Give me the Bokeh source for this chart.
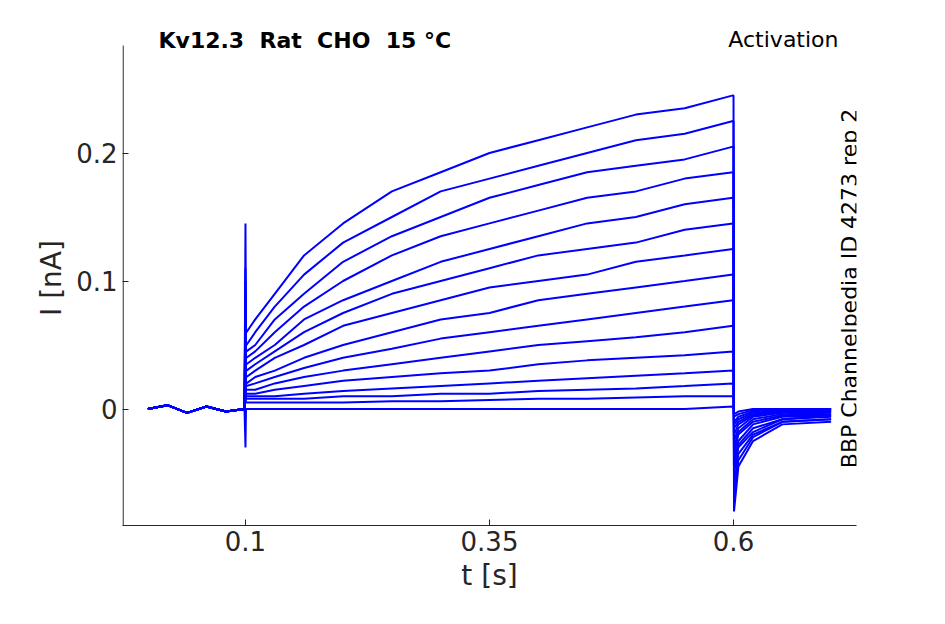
from bokeh.plotting import figure
from bokeh.embed import file_html
from bokeh.resources import INLINE
from bokeh.models import Range1d, Label

pre_t = [0.0, 0.02, 0.04, 0.06, 0.08, 0.099]
pre_v = [0.0, 0.003, -0.003, 0.002, -0.002, 0.0]
step_t = [0.1, 0.1005, 0.101, 0.11, 0.13, 0.16, 0.2, 0.25, 0.3, 0.35, 0.4, 0.45, 0.5, 0.55, 0.5995]
tail_t = [0.6, 0.6005, 0.605, 0.62, 0.65, 0.7]

spikes = [0.145, 0.11, 0.1, 0.09, 0.08, 0.07, 0.06, 0.05, 0.04, 0.035, 0.03, 0.02, 0.015, 0.01, -0.03]
steps = [
    [.06,.07,.09,.12,.145,.17,.185,.2,.21,.22,.23,.235,.245],
    [.05,.06,.08,.105,.13,.15,.17,.18,.19,.2,.21,.215,.225],
    [.045,.05,.07,.09,.115,.135,.15,.165,.175,.185,.19,.195,.205],
    [.04,.045,.06,.08,.1,.12,.135,.145,.155,.165,.17,.18,.185],
    [.035,.04,.05,.07,.085,.1,.115,.125,.135,.145,.15,.16,.165],
    [.03,.035,.045,.06,.075,.09,.1,.11,.12,.125,.13,.14,.145],
    [.025,.03,.04,.05,.065,.075,.085,.095,.1,.105,.115,.12,.125],
    [.02,.025,.03,.04,.05,.06,.07,.075,.085,.09,.095,.1,.105],
    [.018,.02,.025,.032,.04,.047,.055,.06,.065,.07,.075,.08,.085],
    [.015,.015,.02,.025,.03,.035,.04,.045,.05,.053,.056,.06,.065],
    [.012,.012,.015,.018,.022,.025,.028,.03,.035,.038,.04,.042,.045],
    [.01,.01,.01,.012,.014,.016,.018,.02,.022,.024,.026,.028,.03],
    [.008,.008,.008,.008,.01,.01,.012,.012,.014,.015,.016,.018,.02],
    [.005,.005,.005,.005,.005,.006,.006,.007,.008,.008,.009,.01,.01],
    [0,0,0,0,0,0,0,0,0,0,0,0,.002],
]
tails = [
    [.245,-.08,-.045,-.025,-.012,-.01],
    [.225,-.07,-.04,-.022,-.01,-.008],
    [.205,-.06,-.035,-.02,-.01,-.008],
    [.185,-.05,-.03,-.018,-.008,-.006],
    [.165,-.045,-.028,-.015,-.008,-.005],
    [.145,-.04,-.025,-.012,-.006,-.005],
    [.125,-.035,-.02,-.01,-.005,-.004],
    [.105,-.03,-.018,-.008,-.004,-.003],
    [.085,-.025,-.015,-.006,-.003,-.002],
    [.065,-.02,-.012,-.005,-.002,-.002],
    [.045,-.015,-.01,-.004,-.002,-.001],
    [.03,-.012,-.008,-.003,-.001,-.001],
    [.02,-.01,-.006,-.002,0,0],
    [.01,-.006,-.004,-.001,0,0],
    [.002,-.004,-.002,0,0,0],
]

X0, X1 = -0.026, 0.726
Y0, Y_AXIS_TOP, Y1 = -0.091, 0.284, 0.2957

p = figure(width=929, height=608, output_backend="svg", toolbar_location=None,
           x_range=Range1d(X0, X1), y_range=Range1d(Y0, Y1),
           min_border_left=122, min_border_top=30, min_border_right=73, min_border_bottom=83)
p.outline_line_color = None
p.xgrid.visible = False
p.ygrid.visible = False

for sp, st, tl in zip(spikes, steps, tails):
    xs = pre_t + step_t + tail_t
    ys = pre_v + [sp, st[0]] + st + tl
    p.line(xs, ys, line_color="#0000ff", line_width=2)

p.xaxis.ticker = [0.1, 0.35, 0.6]
p.yaxis.ticker = [0, 0.1, 0.2]
p.xaxis.major_label_overrides = {0.1: "0.1", 0.35: "0.35", 0.6: "0.6"}
p.yaxis.major_label_overrides = {0: "0", 0.1: "0.1", 0.2: "0.2"}
for ax in (p.xaxis, p.yaxis):
    ax.major_label_text_font_size = "26px"
    ax.major_label_text_color = "#262626"
    ax.axis_label_text_font_size = "28px"
    ax.axis_label_text_font_style = "normal"
    ax.axis_label_text_color = "#262626"
    ax.minor_tick_line_color = None
    ax.major_tick_in = 6
    ax.major_tick_out = 0
    ax.axis_line_color = "#262626"
    ax.major_tick_line_color = "#262626"
    ax.major_label_text_font = "DejaVu Sans"
    ax.axis_label_text_font = "DejaVu Sans"
p.xaxis.axis_label = "t [s]"
p.yaxis.axis_label = "I [nA]"
p.yaxis.axis_line_color = None
p.segment(x0=[X0 + 0.0006], y0=[Y0], x1=[X0 + 0.0006], y1=[Y_AXIS_TOP], line_color="#262626", line_width=1.2)

p.add_layout(Label(x=158, y=40, x_units="canvas", y_units="canvas",
                   text="Kv12.3\u00a0\u00a0Rat\u00a0\u00a0CHO\u00a0\u00a015\u00a0°C",
                   text_font="DejaVu Sans", text_font_size="22px", text_font_style="bold",
                   text_baseline="middle", text_color="black"))
p.add_layout(Label(x=838, y=39, x_units="canvas", y_units="canvas", text="Activation",
                   text_font="DejaVu Sans", text_font_size="22px", text_align="right", text_baseline="middle",
                   text_color="black"))
p.add_layout(Label(x=849, y=288, x_units="canvas", y_units="canvas", text="BBP Channelpedia ID 4273 rep 2",
                   text_font="DejaVu Sans", text_font_size="22px", text_align="center", text_baseline="middle",
                   text_color="black", angle=1.5708))

open("out.html", "w").write(file_html(p, INLINE))
